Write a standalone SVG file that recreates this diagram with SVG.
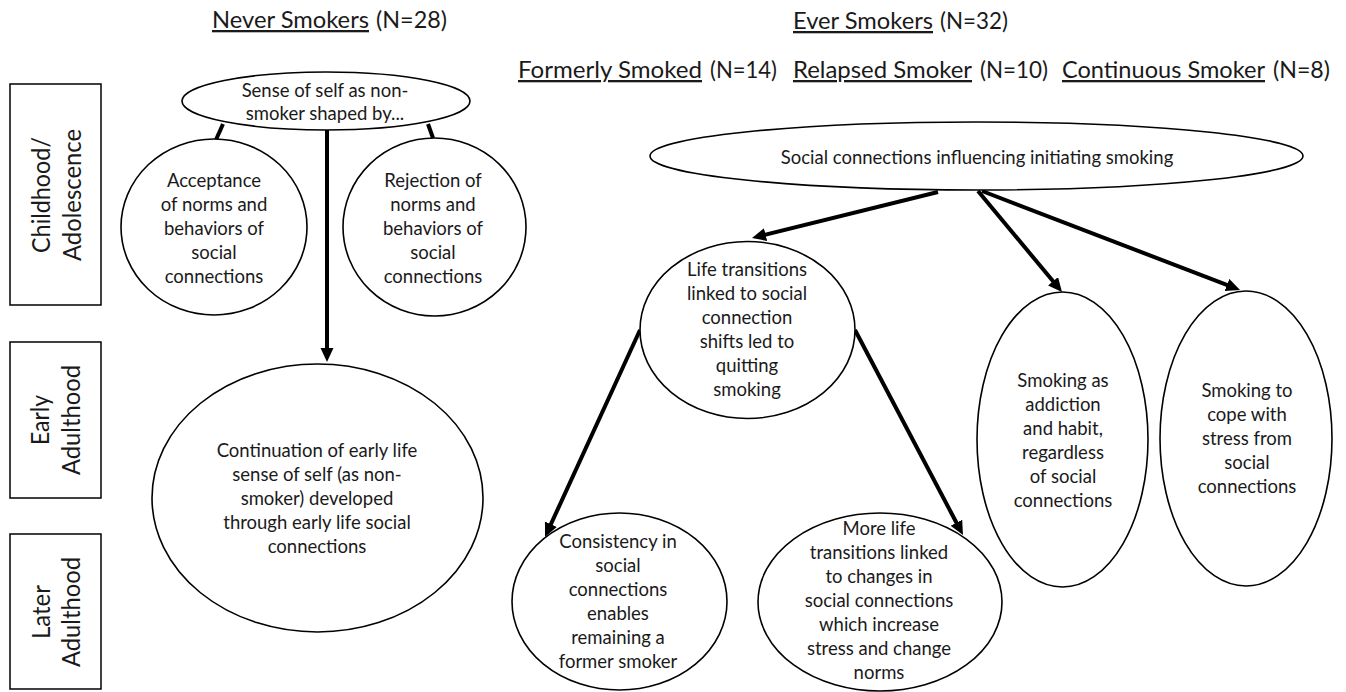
<svg xmlns="http://www.w3.org/2000/svg" width="1346" height="692" viewBox="0 0 1346 692">
<defs>
<marker id="ah" markerUnits="userSpaceOnUse" markerWidth="16" markerHeight="14" refX="4" refY="6.5" orient="auto">
<path d="M0,0 L14,6.5 L0,13 z" fill="#000"/>
</marker>
<style>
.bg{fill:#fff}
.box{fill:#fff;stroke:#000;stroke-width:1.5}
ellipse{fill:#fff;stroke:#000;stroke-width:1.6}
text{font-family:Lato,"Liberation Sans",sans-serif;fill:#1a1a1a}
.t{font-size:18.5px;text-anchor:middle}
.h{font-size:23px}
.r{font-size:25px;text-anchor:middle}
.u{text-decoration:underline}
.c line{stroke:#000;stroke-width:4;fill:none}
.a{marker-end:url(#ah)}
</style>
</defs>
<rect class="bg" x="0" y="0" width="1346" height="692"/>

<g id="headers">
<text class="h u" x="212" y="28" textLength="157" lengthAdjust="spacingAndGlyphs">Never Smokers</text>
<text class="h" x="376" y="28" textLength="71" lengthAdjust="spacingAndGlyphs">(N=28)</text>
<text class="h u" x="793" y="29" textLength="140" lengthAdjust="spacingAndGlyphs">Ever Smokers</text>
<text class="h" x="940" y="29" textLength="68" lengthAdjust="spacingAndGlyphs">(N=32)</text>
<text class="h u" x="518" y="78" textLength="184" lengthAdjust="spacingAndGlyphs">Formerly Smoked</text>
<text class="h" x="710" y="78" textLength="67" lengthAdjust="spacingAndGlyphs">(N=14)</text>
<text class="h u" x="793" y="78" textLength="179" lengthAdjust="spacingAndGlyphs">Relapsed Smoker</text>
<text class="h" x="980" y="78" textLength="68" lengthAdjust="spacingAndGlyphs">(N=10)</text>
<text class="h u" x="1062" y="78" textLength="203" lengthAdjust="spacingAndGlyphs">Continuous Smoker</text>
<text class="h" x="1273" y="78" textLength="57" lengthAdjust="spacingAndGlyphs">(N=8)</text>
</g>

<g id="row-childhood">
<rect class="box" x="10" y="84" width="91" height="221"/>
<text class="r" transform="translate(55,195) rotate(-90)"><tspan x="0" y="-5" textLength="116" lengthAdjust="spacingAndGlyphs">Childhood/</tspan><tspan x="0" y="26" textLength="132" lengthAdjust="spacingAndGlyphs">Adolescence</tspan></text>
</g>
<g id="row-early">
<rect class="box" x="10" y="342" width="91" height="156"/>
<text class="r" transform="translate(55,420) rotate(-90)"><tspan x="0" y="-6" textLength="50" lengthAdjust="spacingAndGlyphs">Early</tspan><tspan x="0" y="25" textLength="110" lengthAdjust="spacingAndGlyphs">Adulthood</tspan></text>
</g>
<g id="row-later">
<rect class="box" x="10" y="534" width="91" height="155"/>
<text class="r" transform="translate(55,612) rotate(-90)"><tspan x="0" y="-5" textLength="54" lengthAdjust="spacingAndGlyphs">Later</tspan><tspan x="0" y="25" textLength="110" lengthAdjust="spacingAndGlyphs">Adulthood</tspan></text>
</g>

<g id="connectors" class="c">
<line x1="223" y1="124" x2="215" y2="142"/>
<line x1="428" y1="124" x2="433" y2="138"/>
<line class="a" x1="327" y1="130" x2="327" y2="352"/>
<line class="a" x1="938" y1="192" x2="761.7" y2="235.6"/>
<line class="a" x1="978" y1="191" x2="1055.6" y2="284.3"/>
<line class="a" x1="982" y1="191" x2="1230.7" y2="286.4"/>
<line class="a" x1="640" y1="330" x2="549.2" y2="527.9"/>
<line class="a" x1="855" y1="330" x2="958.3" y2="526.2"/>
</g>

<g id="n-sense">
<ellipse cx="326" cy="101" rx="144" ry="29"/>
<text class="t"><tspan x="325" y="97">Sense of self as non-</tspan><tspan x="325" y="120">smoker shaped by...</tspan></text>
</g>
<g id="n-acceptance">
<ellipse cx="214" cy="227" rx="93" ry="88"/>
<text class="t"><tspan x="214" y="187">Acceptance</tspan><tspan x="214" y="211">of norms and</tspan><tspan x="214" y="235">behaviors of</tspan><tspan x="214" y="259">social</tspan><tspan x="214" y="283">connections</tspan></text>
</g>
<g id="n-rejection">
<ellipse cx="434.5" cy="227" rx="91.5" ry="89"/>
<text class="t"><tspan x="433" y="187">Rejection of</tspan><tspan x="433" y="211">norms and</tspan><tspan x="433" y="235">behaviors of</tspan><tspan x="433" y="259">social</tspan><tspan x="433" y="283">connections</tspan></text>
</g>
<g id="n-continuation">
<ellipse cx="317.5" cy="498" rx="165.5" ry="134"/>
<text class="t"><tspan x="317" y="457">Continuation of early life</tspan><tspan x="317" y="481">sense of self (as non-</tspan><tspan x="317" y="505">smoker) developed</tspan><tspan x="317" y="529">through early life social</tspan><tspan x="317" y="553">connections</tspan></text>
</g>
<g id="n-social">
<ellipse cx="976.5" cy="156" rx="326.5" ry="34"/>
<text class="t" x="977" y="164">Social connections influencing initiating smoking</text>
</g>
<g id="n-life">
<ellipse cx="747.5" cy="330" rx="107.5" ry="88.5"/>
<text class="t"><tspan x="747" y="276">Life transitions</tspan><tspan x="747" y="300">linked to social</tspan><tspan x="747" y="324">connection</tspan><tspan x="747" y="348">shifts led to</tspan><tspan x="747" y="372">quitting</tspan><tspan x="747" y="396">smoking</tspan></text>
</g>
<g id="n-addiction">
<ellipse cx="1062.5" cy="439.5" rx="85.5" ry="147.5"/>
<text class="t"><tspan x="1063" y="387">Smoking as</tspan><tspan x="1063" y="411">addiction</tspan><tspan x="1063" y="435">and habit,</tspan><tspan x="1063" y="459">regardless</tspan><tspan x="1063" y="483">of social</tspan><tspan x="1063" y="507">connections</tspan></text>
</g>
<g id="n-cope">
<ellipse cx="1246" cy="438.5" rx="86" ry="147.5"/>
<text class="t"><tspan x="1247" y="397">Smoking to</tspan><tspan x="1247" y="421">cope with</tspan><tspan x="1247" y="445">stress from</tspan><tspan x="1247" y="469">social</tspan><tspan x="1247" y="493">connections</tspan></text>
</g>
<g id="n-consistency">
<ellipse cx="619.5" cy="601.5" rx="107.5" ry="88.5"/>
<text class="t"><tspan x="618" y="548">Consistency in</tspan><tspan x="618" y="572">social</tspan><tspan x="618" y="596">connections</tspan><tspan x="618" y="620">enables</tspan><tspan x="618" y="644">remaining a</tspan><tspan x="618" y="668">former smoker</tspan></text>
</g>
<g id="n-morelife">
<ellipse cx="880" cy="602" rx="122" ry="89"/>
<text class="t"><tspan x="879" y="535">More life</tspan><tspan x="879" y="559">transitions linked</tspan><tspan x="879" y="583">to changes in</tspan><tspan x="879" y="607">social connections</tspan><tspan x="879" y="631">which increase</tspan><tspan x="879" y="655">stress and change</tspan><tspan x="879" y="679">norms</tspan></text>
</g>
</svg>
